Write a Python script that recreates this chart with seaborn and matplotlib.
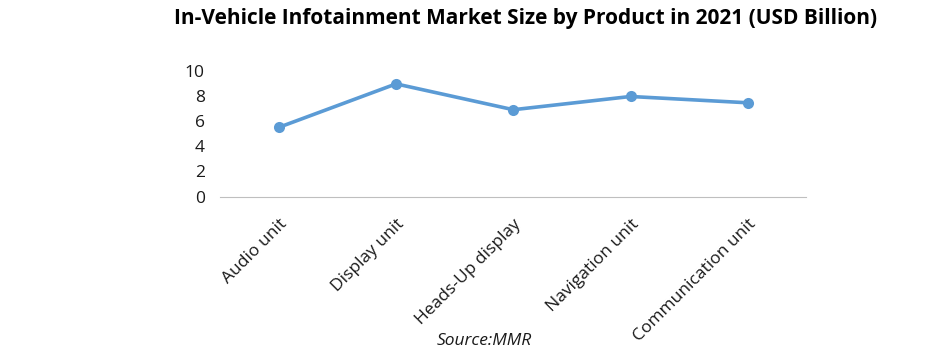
import pandas as pd
import seaborn as sns
import matplotlib.pyplot as plt

# Values
products = ["Audio unit", "Display unit", "Heads-Up display", "Navigation unit", "Communication unit"]
market_size = [5.5, 8.95, 6.9, 7.95, 7.45]
y_ticks = [0, 2, 4, 6, 8, 10]

df = pd.DataFrame({"product": products, "size": market_size})

sns.set_style("white")
plt.rcParams['font.family'] = ['Open Sans', 'DejaVu Sans']

fig = plt.figure(figsize=(9.41, 3.55), dpi=100)
ax = fig.add_axes([0.234, 0.446, 0.623, 0.355])

sns.lineplot(data=df, x="product", y="size", ax=ax, color="#5B9BD5",
             linewidth=2.6, marker="o", markersize=8, markeredgewidth=0, sort=False)

ax.set_xlim(-0.5, len(products) - 0.5)
ax.set_ylim(0, 10)
ax.set_yticks(y_ticks)
ax.set_xlabel("")
ax.set_ylabel("")

for side in ["top", "right", "left"]:
    ax.spines[side].set_visible(False)
ax.spines["bottom"].set_color("#BFBFBF")
ax.spines["bottom"].set_linewidth(0.8)

ax.tick_params(axis="y", length=0, labelsize=12.5, pad=11, labelcolor="#1a1a1a")
ax.tick_params(axis="x", length=0, labelsize=12.5, pad=14, labelcolor="#1a1a1a")
plt.setp(ax.get_xticklabels(), rotation=45, ha="right", rotation_mode="anchor")

fig.text(0.558, 0.947, "In-Vehicle Infotainment Market Size by Product in 2021 (USD Billion)",
         ha="center", va="center", fontsize=15, fontweight="bold", color="black")
fig.text(0.515, 0.04, "Source:MMR", ha="center", va="center", fontsize=12.5,
         style="italic", color="#1a1a1a")

fig.savefig("out.png", dpi=100)
